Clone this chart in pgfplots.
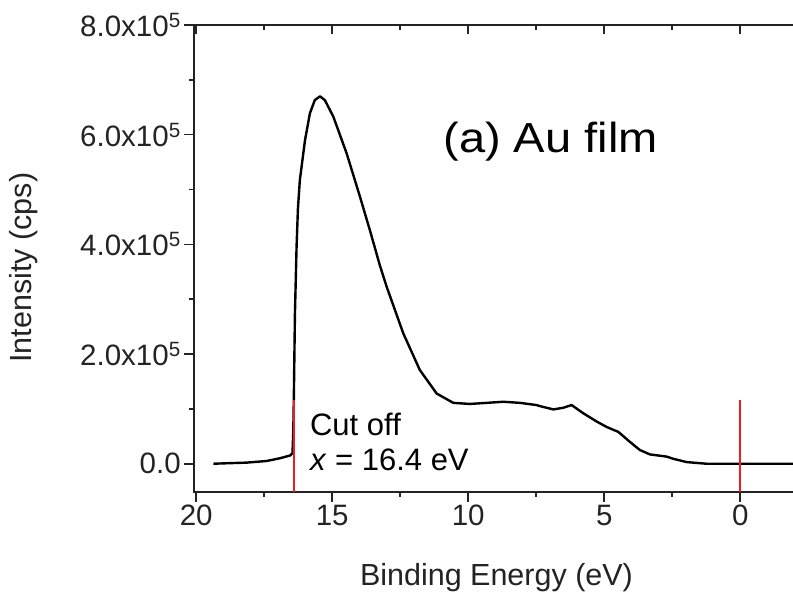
\documentclass[border=0pt]{standalone}
\usepackage{fontspec}
\setmainfont{Liberation Sans}
\newfontfamily\widefont{Liberation Sans}[FakeStretch=1.12]
\usepackage{pgfplots}
\pgfplotsset{compat=1.18}
\definecolor{cutred}{RGB}{240,28,32}
\definecolor{axgray}{RGB}{35,35,35}
\begin{document}
\begin{tikzpicture}
\useasboundingbox (-194.3pt,-100.3pt) rectangle (598.7pt,491.7pt);
\begin{axis}[
  at={(0pt,0pt)}, anchor=south west,
  scale only axis, width=602pt, height=466.7pt,
  x dir=reverse, xmin=-2.06, xmax=20.07, ymin=-0.51e5, ymax=8e5,
  axis line style={axgray, line width=1.6pt},
  tick style={axgray, line width=1.6pt},
  major tick length=10pt, minor tick length=5pt,
  tick align=outside, xtick pos=left, ytick pos=left,
  xtick={0,5,10,15,20}, minor xtick={2.5,7.5,12.5,17.5},
  xticklabels={0,5,10,15,20},
  ytick={0,2e5,4e5,6e5,8e5}, minor ytick={1e5,3e5,5e5,7e5},
  yticklabels={0.0,{2.0x10\textsuperscript{5}},{4.0x10\textsuperscript{5}},{6.0x10\textsuperscript{5}},{8.0x10\textsuperscript{5}}},
  scaled ticks=false,
  tick label style={font=\fontsize{29.5}{34}\selectfont, text=axgray},
  label style={font=\fontsize{30.5}{35}\selectfont, text=axgray},
  xlabel={Binding Energy (eV)},
  ylabel={Intensity (cps)},
  xlabel style={at={(axis description cs:0.502,-0.202)}, anchor=base},
  ylabel style={at={(axis description cs:-0.271,0.48)}, anchor=base},
  clip=false,
]
\addplot[black, line width=2.4pt, line join=round] coordinates {
(19.37,0) (18.8,0.01e5) (18.15,0.02e5) (17.41,0.05e5) (16.92,0.10e5)
(16.55,0.15e5) (16.46,0.19e5) (16.43,0.6e5) (16.41,1.22e5) (16.37,2.74e5)
(16.31,3.96e5) (16.26,4.65e5) (16.19,5.17e5) (16.00,5.90e5) (15.82,6.39e5)
(15.64,6.63e5) (15.45,6.70e5) (15.27,6.63e5) (14.96,6.33e5) (14.47,5.66e5)
(13.98,4.87e5) (13.61,4.25e5) (13.25,3.62e5) (13.00,3.23e5) (12.39,2.38e5)
(11.78,1.71e5) (11.16,1.28e5) (10.55,1.11e5) (9.94,1.09e5) (9.32,1.11e5)
(8.71,1.13e5) (8.10,1.11e5) (7.49,1.07e5) (7.36,1.05e5) (6.87,0.99e5)
(6.51,1.02e5) (6.20,1.07e5) (5.77,0.92e5) (5.28,0.77e5) (4.91,0.67e5)
(4.48,0.58e5) (4.06,0.40e5) (3.69,0.25e5) (3.32,0.17e5) (2.71,0.13e5)
(2.46,0.09e5) (1.97,0.03e5) (1.24,0.0) (0,0) (-2.06,0)
};
\addplot[cutred, line width=2.2pt] coordinates {(16.4,-0.51e5) (16.4,1.16e5)};
\addplot[cutred, line width=2.2pt] coordinates {(0,-0.51e5) (0,1.16e5)};
\draw[axgray, line width=1.6pt] (rel axis cs:0,1) -- (rel axis cs:1,1);
\node[anchor=base west, font=\widefont\fontsize{42}{48}\selectfont, text=black] at (axis cs:11.04,5.666e5) {(a) Au film};
\node[anchor=base west, font=\fontsize{31}{36}\selectfont, text=black, inner sep=0pt] at (axis cs:15.82,0.523e5) {Cut off};
\node[anchor=base west, font=\fontsize{31}{36}\selectfont, text=black, inner sep=0pt] at (axis cs:15.82,-0.115e5) {\textit{x} = 16.4 eV};
\end{axis}
\begin{axis}[
  at={(0pt,0pt)}, anchor=south west,
  scale only axis, width=602pt, height=466.7pt,
  x dir=reverse, xmin=-2.06, xmax=20.07, ymin=-0.51e5, ymax=8e5,
  axis line style={draw=none},
  tick style={axgray, line width=1.6pt},
  major tick length=9pt, minor tick length=5pt,
  tick align=inside, xtick pos=right, ytick pos=right,
  xtick={0,5,10,15,20}, minor xtick={2.5,7.5,12.5,17.5},
  xticklabel=\empty, ytick=\empty,
]
\end{axis}
\end{tikzpicture}
\end{document}
